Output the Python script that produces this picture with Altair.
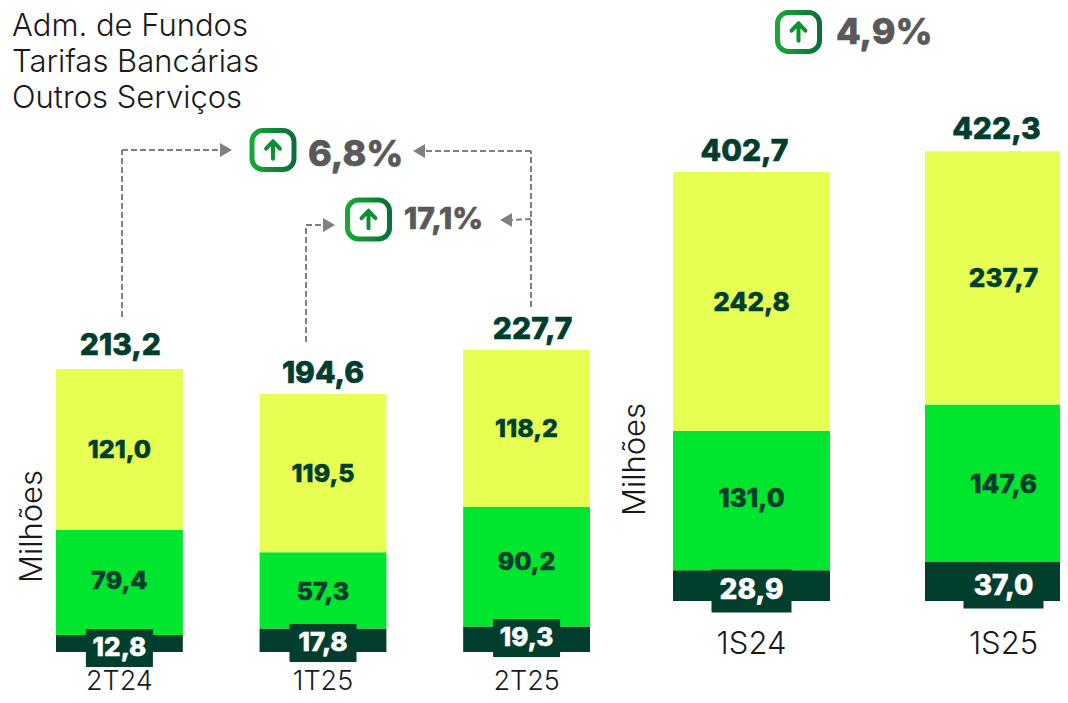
import altair as alt
import pandas as pd

FONT = "Inter"
M = 8  # page margin
DARK, GREEN, YELLOW = "#023E2E", "#00E52E", "#E6FF52"
GRAY = "#595959"
TXT = "#1a1a1a"

series = ["Adm. de Fundos", "Tarifas Bancárias", "Outros Serviços"]
colors = [YELLOW, GREEN, DARK]

q_cats = ["2T24", "1T25", "2T25"]
q_fundos = [121.0, 119.5, 118.2]
q_tarifas = [79.4, 57.3, 90.2]
q_outros = [12.8, 17.8, 19.3]
q_totals = [213.2, 194.6, 227.7]
q_lab_f = [152.2, 134.1, 168.0]
q_lab_t = [53.5, 45.2, 67.8]
q_lab_o = [3.0, 6.8, 10.5]
q_lab_total = [230.6, 209.5, 242.7]
q_total_shift = [1, 0, 6]

s_cats = ["1S24", "1S25"]
s_fundos = [242.8, 237.7]
s_tarifas = [131.0, 147.6]
s_outros = [28.9, 37.0]
s_totals = [402.7, 422.3]
s_lab_f = [279.8, 302.3]
s_lab_t = [95.8, 108.9]
s_lab_o = [9.4, 13.1]
s_lab_total = [421.6, 442.3]
s_total_shift = [-7, -7]

# connector segments, page pixels: x, y, x2, y2
segments = [
    (122, 317, 122, 150), (122, 150, 220, 150),
    (531, 307, 531, 151), (531, 151, 426, 151),
    (306, 342, 306, 225), (306, 225, 323, 225),
    (531, 219, 512, 220),
]
heads = [(226, 150, "triangle-right"), (419, 151, "triangle-left"),
         (329, 225, "triangle-right"), (506, 220, "triangle-left")]
icons = [(273, 150, "6,8%", 308, 155, 36), (368.5, 219.5, "17,1%", 404, 220, 30), (798.5, 32, "4,9%", 836, 33, 36)]


def fmt(v):
    return f"{v:.1f}".replace(".", ",")


def legend():
    return alt.Legend(orient="none", legendX=-27, legendY=3, title=None, padding=0,
                      symbolSize=1, symbolOpacity=0, symbolStrokeWidth=0, labelOffset=0,
                      labelFont=FONT, labelFontSize=31, labelColor=TXT, labelFontWeight=300,
                      rowPadding=4, labelLimit=400, columnPadding=0, symbolOffset=0)


def panel(cats, fundos, tarifas, outros, totals, lab_f, lab_t, lab_o, lab_total, total_shift,
          xr, base, ppu, barw_badge, badge_h, size_seg, size_total, size_badge, size_cat,
          axis_offset, title_x, title_y):
    xs = alt.Scale(type="band", domain=cats, range=xr, paddingInner=0.377, paddingOuter=0)
    low, high = -60, 600
    ys = alt.Scale(domain=[low, high], range=[base - low * ppu, base - high * ppu])
    rows = []
    for i, c in enumerate(cats):
        rows.append(dict(cat=c, serie=series[2], a=0, b=outros[i]))
        rows.append(dict(cat=c, serie=series[1], a=outros[i], b=outros[i] + tarifas[i]))
        rows.append(dict(cat=c, serie=series[0], a=outros[i] + tarifas[i], b=outros[i] + tarifas[i] + fundos[i]))
    x_ax = alt.Axis(title=None, orient="bottom", ticks=False, domain=False, grid=False, labelAngle=0,
                    labelFont=FONT, labelFontSize=size_cat, labelFontWeight=300, labelColor=TXT, labelPadding=0,
                    labelBaseline="top", offset=axis_offset, labelLimit=200)
    y_ax = alt.Axis(title="Milhões", orient="left", labels=False, ticks=False, domain=False, grid=False,
                    titleFont=FONT, titleFontSize=31, titleFontWeight=300, titleColor=TXT,
                    titleAngle=270, titleAlign="center", titleBaseline="middle", titleX=title_x, titleY=title_y)
    X = alt.X("cat:N", scale=xs, axis=None)
    Y = lambda f: alt.Y(f, scale=ys, axis=None)
    bars = alt.Chart(pd.DataFrame(rows)).mark_bar(clip=False).encode(
        x=alt.X("cat:N", scale=xs, axis=x_ax),
        y=alt.Y("a:Q", scale=ys, axis=y_ax),
        y2="b:Q",
        color=alt.Color("serie:N", scale=alt.Scale(domain=series, range=colors), legend=legend()),
    )
    badge_half = badge_h / 2 / ppu
    bdf = pd.DataFrame(dict(cat=cats, lo=[v - badge_half for v in lab_o], hi=[v + badge_half for v in lab_o],
                            y=lab_o, t=[fmt(v) for v in outros]))
    badges = alt.Chart(bdf).mark_bar(size=barw_badge, color=DARK).encode(x=X, y=Y("lo:Q"), y2="hi:Q")
    badge_text = alt.Chart(bdf).mark_text(font=FONT, fontWeight=800, fontSize=size_badge, color="white",
                                          stroke="white", strokeWidth=0.5).encode(
        x=X, y=Y("y:Q"), text="t:N")
    seg = pd.DataFrame(dict(cat=cats * 2, y=list(lab_f) + list(lab_t),
                            t=[fmt(v) for v in list(fundos) + list(tarifas)]))
    seg_text = alt.Chart(seg).mark_text(font=FONT, fontWeight=800, fontSize=size_seg, color=DARK,
                                        stroke=DARK, strokeWidth=0.5).encode(
        x=X, y=Y("y:Q"), text="t:N")
    tot = pd.DataFrame(dict(cat=cats, y=lab_total, t=[fmt(v) for v in totals], dx=total_shift))
    tot_texts = [
        alt.Chart(tot[tot.dx == d]).mark_text(font=FONT, fontWeight=800, fontSize=size_total, color=DARK,
                                              stroke=DARK, strokeWidth=0.6, dx=d).encode(
            x=X, y=Y("y:Q"), text="t:N")
        for d in sorted(set(total_shift))
    ]
    return [bars, badges, badge_text, seg_text, *tot_texts]


left = panel(q_cats, q_fundos, q_tarifas, q_outros, q_totals, q_lab_f, q_lab_t, q_lab_o, q_lab_total, q_total_shift,
             xr=[56 - M, 590 - M], base=652 - M, ppu=1.327, barw_badge=67, badge_h=38,
             size_seg=25, size_total=30, size_badge=26, size_cat=27, axis_offset=-27,
             title_x=32 - M, title_y=526 - M)
right = panel(s_cats, s_fundos, s_tarifas, s_outros, s_totals, s_lab_f, s_lab_t, s_lab_o, s_lab_total, s_total_shift,
              xr=[673 - M, 1082 - M], base=601 - M, ppu=1.065, barw_badge=80, badge_h=43,
              size_seg=26, size_total=30, size_badge=28, size_cat=31, axis_offset=-66,
              title_x=635 - M, title_y=459 - M)

AX = lambda f: alt.X(f, scale=None, axis=None)
AY = lambda f: alt.Y(f, scale=None, axis=None)

seg_df = pd.DataFrame(segments, columns=["x", "y", "x2", "y2"]) - M
conn = alt.Chart(seg_df).mark_rule(color="#808080", strokeWidth=2, strokeDash=[6, 3]).encode(
    x=AX("x:Q"), y=AY("y:Q"), x2="x2:Q", y2="y2:Q")
head_df = pd.DataFrame(heads, columns=["x", "y", "shape"])
head_df[["x", "y"]] -= M
head_charts = [
    alt.Chart(head_df[head_df["shape"] == s]).mark_point(shape=s, filled=True, size=190, color="#808080", opacity=1).encode(
        x=AX("x:Q"), y=AY("y:Q"))
    for s in ["triangle-right", "triangle-left"]
]
icon_df = pd.DataFrame(icons, columns=["x", "y", "t", "tx", "ty", "fs"])
icon_df[["x", "y", "tx", "ty"]] -= M
icon_df["x1"] = icon_df.x - 21
icon_df["x2"] = icon_df.x + 21
icon_df["y1"] = icon_df.y - 19.5
icon_df["y2"] = icon_df.y + 19.5
grad = alt.Gradient(gradient="linear", x1=0, x2=1, y1=0, y2=0,
                    stops=[alt.GradientStop(offset=0, color="#17A736"), alt.GradientStop(offset=1, color="#0A6F3A")])
boxes = alt.Chart(icon_df).mark_rect(fill="white", stroke=grad, strokeWidth=5, cornerRadius=11).encode(
    x=AX("x1:Q"), x2="x2:Q", y=AY("y1:Q"), y2="y2:Q")
arrows = alt.Chart(icon_df).mark_point(
    shape="M0,-1L-0.8,-0.15M0,-1L0.8,-0.15M0,-1L0,1", size=300, stroke="#0E8F34", strokeWidth=4,
    strokeCap="round", opacity=1, filled=False).encode(
    x=AX("x:Q"), y=AY("y:Q"))
pct_text = [
    alt.Chart(icon_df[icon_df.fs == fs]).mark_text(font=FONT, fontWeight=800, fontSize=fs, color=GRAY, align="left",
                                                   stroke=GRAY, strokeWidth=0.6).encode(
        x=AX("tx:Q"), y=AY("ty:Q"), text="t:N")
    for fs in sorted(set(icon_df.fs))
]

chart = alt.layer(*left, *right, conn, *head_charts, boxes, arrows, *pct_text).resolve_scale(
    x="independent", y="independent").properties(
    width=1052, height=687, padding=0, autosize=alt.AutoSizeParams(type="none"), background="white",
).configure_view(stroke=None)

chart.save("out.html", embed_options={"renderer": "svg", "actions": False})
